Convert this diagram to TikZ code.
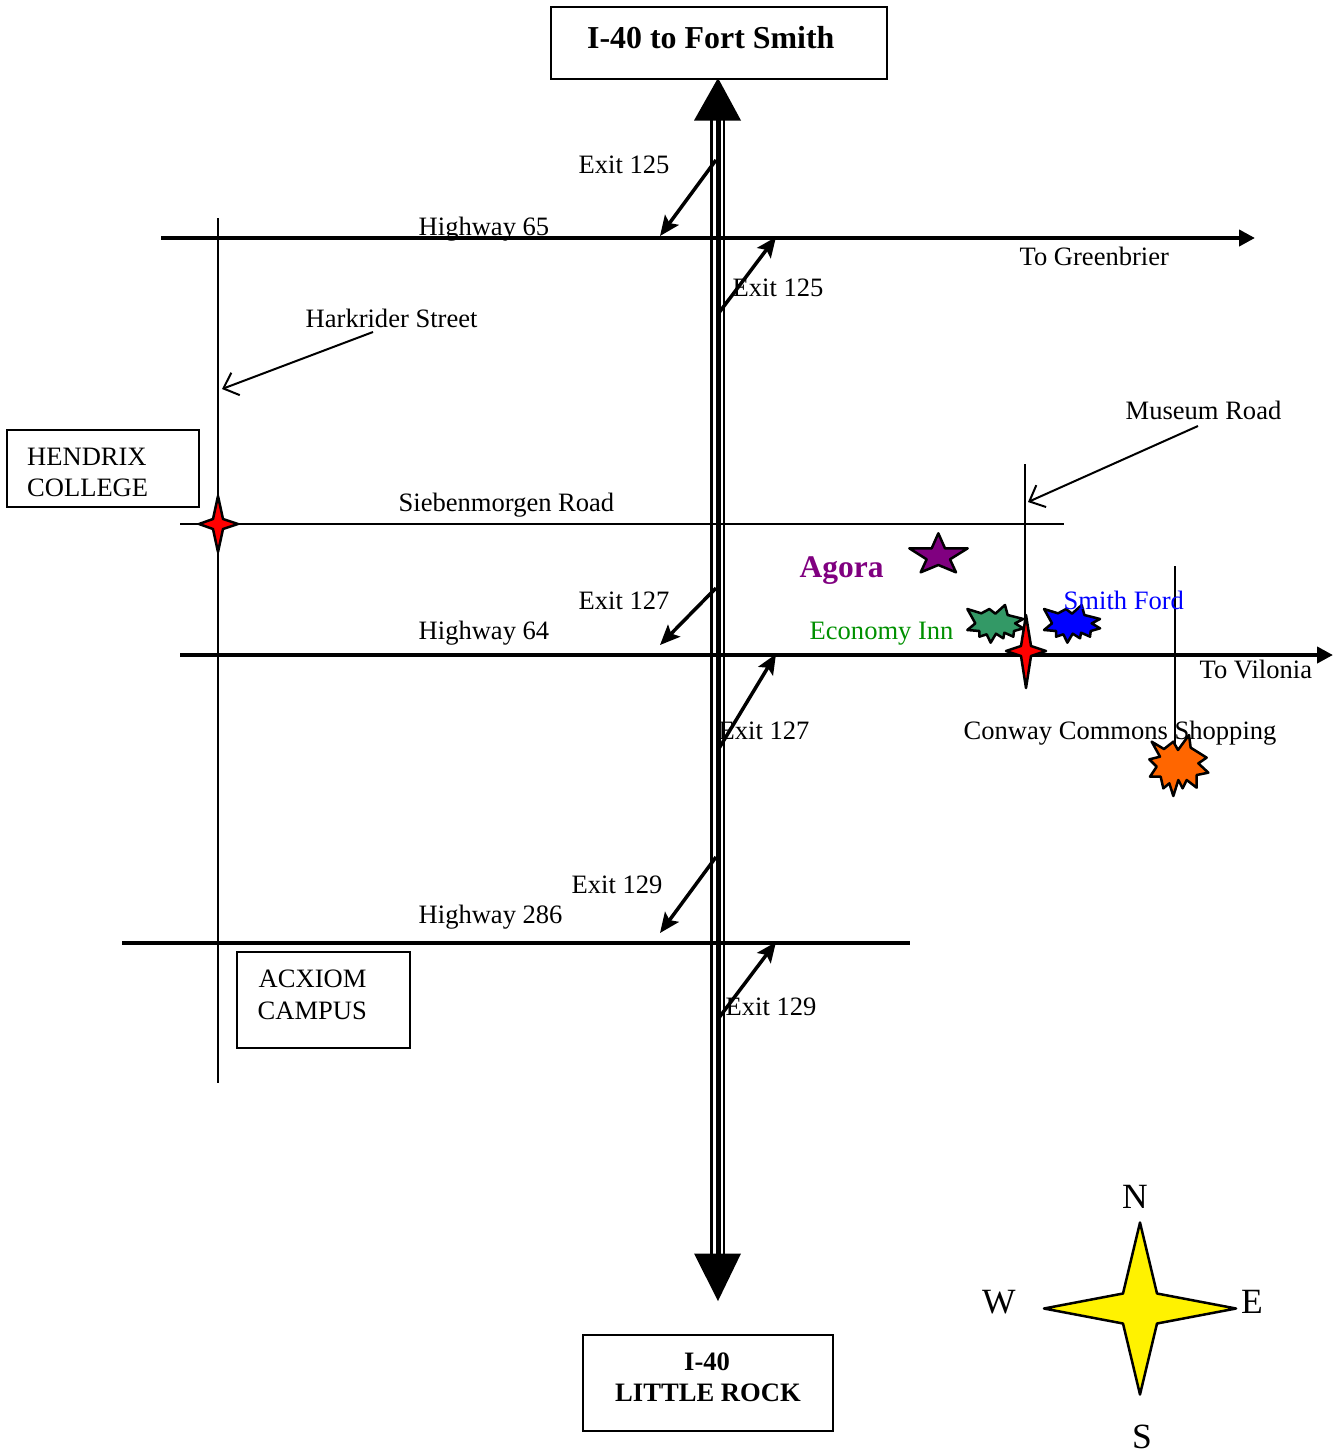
\documentclass[tikz,border=0pt]{standalone}
\usepackage{fontspec}
\setmainfont{Liberation Serif}
\usetikzlibrary{arrows.meta}
\definecolor{innFill}{RGB}{51,153,102}
\definecolor{innGreen}{RGB}{0,144,0}
\definecolor{shopOrange}{RGB}{255,102,0}
\definecolor{agoraPurple}{RGB}{128,0,128}
\tikzset{
	lbl/.style={anchor=base west,inner sep=0pt,font=\fontsize{26.55}{31}\selectfont},
	boxlbl/.style={lbl,font=\fontsize{#1}{31}\selectfont\bfseries},
	compasslbl/.style={lbl,font=\fontsize{35.5}{40}\selectfont},
	mapbox/.style={draw,line width=2pt,inner sep=0pt},
	road/.style={line width=2pt},
	highway/.style={line width=4pt},
	hwyarrow/.style={highway,-{Triangle[length=16pt,width=16pt]}},
	exitarrow/.style={line width=3.5pt,-{Stealth[length=20pt,width=17pt,inset=4pt]}},
	streetarrow/.style={line width=2pt,-{Straight Barb[length=13pt,width=24pt]}},
	marker/.style={draw,line width=2.5pt,line join=round},
}
\begin{document}
\begin{tikzpicture}[x=1pt,y=-1pt]
\useasboundingbox (0,0) rectangle (1333,1454);
\coordinate (w65) at (161,238);
\coordinate (e65) at (1255,238);
\coordinate (w64) at (180,655);
\coordinate (e64) at (1333,655);
\coordinate (w286) at (122,943);
\coordinate (e286) at (910,943);
\coordinate (wsb) at (180,524);
\coordinate (esb) at (1064,524);
\coordinate (nh) at (218,218);
\coordinate (sh) at (218,1083);
\coordinate (nm) at (1025,464);
\coordinate (sm) at (1025,650);
\coordinate (nc) at (1175,566);
\coordinate (sc) at (1175,745);
\coordinate (hs) at (373,332);
\coordinate (ht) at (222,389);
\coordinate (ms) at (1198,426);
\coordinate (mt) at (1028,502);

% interstate
\foreach \n/\x/\w in {1/711.5/2.5,2/718/5,3/724/2.5}
{
	\coordinate (n\n) at (\x,120);
	\coordinate (s\n) at (\x,1254);
	\draw[line width=\w pt] (n\n) -- (s\n);
}
\fill (718,78) -- (741,120.5) -- (694,120.5) -- cycle;
\fill (718,1301) -- (741,1253.5) -- (694,1253.5) -- cycle;

% roads
\foreach \a/\b in {wsb/esb,nh/sh,nm/sm,nc/sc}
{
	\draw[road] (\a) -- (\b);
}
\draw[hwyarrow] (w65) -- (e65);
\draw[hwyarrow] (w64) -- (e64);
\draw[highway] (w286) -- (e286);
\draw[streetarrow] (hs) -- (ht);
\draw[streetarrow] (ms) -- (mt);

% exits
\foreach \n/\xa/\ya/\xb/\yb in {1/716/160/660/236,2/718/314/776/237,3/716/588/660/645,4/718/750/776/654,5/716/857/660/933,6/718/1019/776/942}
{
	\coordinate (xa\n) at (\xa,\ya);
	\coordinate (xb\n) at (\xb,\yb);
	\draw[exitarrow] (xa\n) -- (xb\n);
}

% boxes
\node[mapbox,minimum width=336pt,minimum height=72pt] (fortbox) at (719,43) {};
\node[mapbox,minimum width=192pt,minimum height=77pt] (hendrixbox) at (103,468.5) {};
\node[mapbox,minimum width=173pt,minimum height=96pt] (acxiombox) at (323.5,1000) {};
\node[mapbox,minimum width=250pt,minimum height=96pt] (rockbox) at (708,1383) {};

% labels
\node[boxlbl=31.9] (fort) at (587,48) {I-40 to Fort Smith};
\node[boxlbl=26.6] (rock1) at (684,1370) {I-40};
\node[boxlbl=26.6] (rock2) at (615,1401) {LITTLE ROCK};
\node[lbl] (hendrix) at (27,465) {HENDRIX};
\node[lbl] (college) at (27,496) {COLLEGE};
\node[lbl] (acxiom) at (258.5,987) {ACXIOM};
\node[lbl] (campus) at (257.5,1019) {CAMPUS};
\node[lbl] (x125a) at (578.5,173) {Exit 125};
\node[lbl] (h65) at (418.5,235) {Highway 65};
\node[lbl] (green) at (1019.5,265) {To Greenbrier};
\node[lbl] (x125b) at (732.5,296) {Exit 125};
\node[lbl] (hark) at (305.5,327) {Harkrider Street};
\node[lbl] (mus) at (1125.5,419) {Museum Road};
\node[lbl] (sieb) at (398.5,511) {Siebenmorgen Road};
\node[lbl] (x127a) at (578.5,609) {Exit 127};
\node[lbl] (h64) at (418.5,639) {Highway 64};
\node[lbl] (vil) at (1199.5,678) {To Vilonia};
\node[lbl] (x127b) at (718.5,739) {Exit 127};
\node[lbl] (conway) at (963.5,739) {Conway Commons Shopping};
\node[lbl] (x129a) at (571.5,893) {Exit 129};
\node[lbl] (h286) at (418.5,923) {Highway 286};
\node[lbl] (x129b) at (725.5,1015) {Exit 129};
\node[lbl,text=innGreen] (inn) at (809.5,639) {Economy Inn};
\node[boxlbl=31.5,text=agoraPurple] (agora) at (799.5,577) {Agora};
\node[compasslbl] (cn) at (1122,1208) {N};
\node[compasslbl] (cw) at (982,1313) {W};
\node[compasslbl] (ce) at (1241,1313) {E};
\node[compasslbl] (cs) at (1132,1448) {S};

% four point stars
\foreach \x/\y/\l/\r/\t/\b/\i/\j/\c in {218/524/19/20/28/28/5/5/red,1026/651/20/20/36/37/5/5/red,1140/1308.5/96/96/86/86/17/15/yellow}
{
	\draw[marker,fill=\c] (\x,\y-\t) -- (\x+\i,\y-\j) -- (\x+\r,\y) -- (\x+\i,\y+\j)
		-- (\x,\y+\b) -- (\x-\i,\y+\j) -- (\x-\l,\y) -- (\x-\i,\y-\j) -- cycle;
}

% agora star
\begin{scope}[shift={(900,520)},x=.3333pt,y=-.3333pt]
\draw[marker,fill=agoraPurple] (115,40) -- (135,85) -- (203,85) -- (150,118) -- (168,157)
	-- (115,135) -- (62,157) -- (80,118) -- (28,85) -- (95,85) -- cycle;
\end{scope}

% bursts
\foreach \dx/\c in {0/innFill,76.7/blue}
{
	\begin{scope}[shift={(960+\dx,595)},x=.3333pt,y=-.3333pt]
	\draw[marker,fill=\c] (22,42) -- (64,55) -- (88,42) -- (106,56) -- (135,30) -- (143,60) -- (190,72) -- (165,85)
		-- (190,100) -- (162,108) -- (160,125) -- (133,113) -- (130,130) -- (108,116) -- (92,143) -- (80,118)
		-- (58,125) -- (58,108) -- (22,105) -- (46,85) -- cycle;
	\end{scope}
}
\begin{scope}[shift={(1140,725)},x=.3333pt,y=-.3333pt]
\draw[marker,fill=shopOrange] (35,50) -- (72,72) -- (100,50) -- (114,75) -- (147,30) -- (152,68) -- (200,98) -- (175,115)
	-- (205,143) -- (170,150) -- (170,188) -- (140,165) -- (128,190) -- (115,165) -- (100,213) -- (88,175)
	-- (70,190) -- (62,155) -- (30,155) -- (50,125) -- (28,103) -- (60,95) -- cycle;
\end{scope}

\node[lbl,text=blue] (ford) at (1063.5,609) {Smith Ford};
\end{tikzpicture}
\end{document}
